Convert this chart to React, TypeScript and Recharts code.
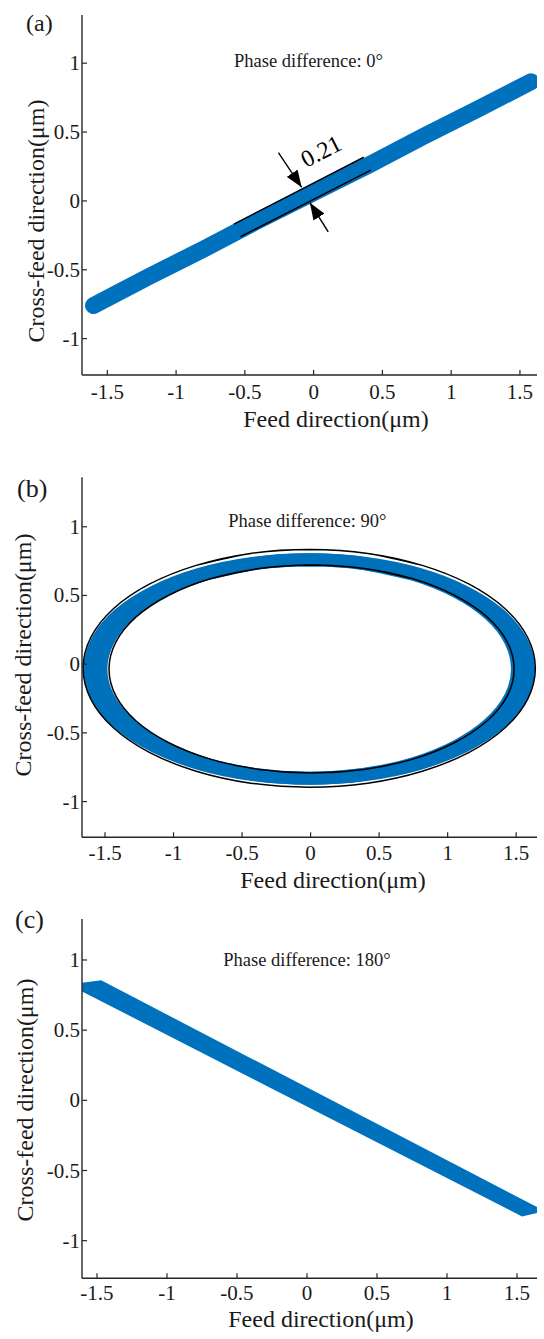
import React from 'react';
import { ComposedChart, Line, Area, XAxis, YAxis, ReferenceLine, ReferenceDot } from 'recharts';

const FONT = "'Liberation Serif', 'Times New Roman', Times, serif";
const BLUE = '#0072BD';
const AXIS = '#262626';
const TEXT = '#1a1a1a';

// ---------- shared axis data ----------
const X_TICKS = [-1.5, -1, -0.5, 0, 0.5, 1, 1.5];
const Y_TICKS = [-1, -0.5, 0, 0.5, 1];
const PANEL_TITLES = ['(a)', '(b)', '(c)'];
const PHASE_LABELS = ['Phase difference: 0°', 'Phase difference: 90°', 'Phase difference: 180°'];
const X_TITLE = 'Feed direction(μm)';
const Y_TITLE = 'Cross-feed direction(μm)';

// ---------- (a) phase 0° ----------
const aBandX = [-1.6, -1.2, -0.8, -0.4, 0, 0.4, 0.8, 1.2, 1.58];
const aBandY = [-0.76, -0.55, -0.35, -0.14, 0.06, 0.26, 0.47, 0.67, 0.865];
const aEdgeUpperX = [-0.579, 0.365];
const aEdgeUpperY = [-0.168, 0.317];
const aEdgeLowerX = [-0.532, 0.416];
const aEdgeLowerY = [-0.26, 0.224];
const aArrowTopX = [-0.256, -0.087];
const aArrowTopY = [0.35, 0.099];
const aArrowBottomX = [0.106, -0.027];
const aArrowBottomY = [-0.224, -0.013];
const aWidthLabel = '0.21';
const aWidthLabelXY = [0.055, 0.36];

// ---------- (b) phase 90° (points every 15°, starting at the right) ----------
const bBlueY = [-0.035, 0.171, 0.363, 0.527, 0.654, 0.733, 0.76, 0.733, 0.654, 0.527, 0.363, 0.171,
  -0.035, -0.241, -0.433, -0.597, -0.724, -0.803, -0.83, -0.803, -0.724, -0.597, -0.433, -0.241];
const bBlueOuterX = [1.59, 1.535, 1.376, 1.121, 0.79, 0.404, -0.01, -0.424, -0.81, -1.141, -1.396, -1.555,
  -1.61, -1.555, -1.396, -1.141, -0.81, -0.424, -0.01, 0.404, 0.79, 1.121, 1.376, 1.535];
const bBlueInnerX = [1.51, 1.458, 1.306, 1.065, 0.75, 0.383, -0.01, -0.403, -0.77, -1.085, -1.326, -1.478,
  -1.53, -1.478, -1.326, -1.085, -0.77, -0.403, -0.01, 0.383, 0.75, 1.065, 1.306, 1.458];
const bFitOuterX = [1.64, 1.584, 1.419, 1.157, 0.815, 0.417, -0.01, -0.437, -0.835, -1.177, -1.439, -1.604,
  -1.66, -1.604, -1.439, -1.177, -0.835, -0.437, -0.01, 0.417, 0.815, 1.157, 1.419, 1.584];
const bFitOuterY = [-0.03, 0.194, 0.403, 0.582, 0.719, 0.806, 0.835, 0.806, 0.719, 0.582, 0.403, 0.194,
  -0.03, -0.254, -0.463, -0.642, -0.779, -0.866, -0.895, -0.866, -0.779, -0.642, -0.463, -0.254];
const bFitInnerX = [1.485, 1.435, 1.287, 1.052, 0.746, 0.39, 0.007, -0.376, -0.732, -1.038, -1.273, -1.421,
  -1.471, -1.421, -1.273, -1.038, -0.732, -0.376, 0.007, 0.39, 0.746, 1.052, 1.287, 1.435];
const bFitInnerY = [-0.035, 0.161, 0.344, 0.5, 0.621, 0.696, 0.722, 0.696, 0.621, 0.5, 0.344, 0.161,
  -0.035, -0.231, -0.414, -0.57, -0.691, -0.766, -0.792, -0.766, -0.691, -0.57, -0.414, -0.231];

// ---------- (c) phase 180° ----------
const cBandX = [-1.703, -1.47, 1.536, 1.7];
const cBandLow = [0.825, 0.706, -0.827, -0.79];
const cBandHigh = [0.825, 0.855, -0.705, -0.79];

// ---------- helpers ----------
const pts = (xs: number[], ys: number[]) => xs.map((x, i) => ({ x, y: ys[i] }));
// walk the closed loop starting near the top and run a few points past the start,
// so the spline ends overlap instead of meeting in a kink
const loop = (xs: number[], ys: number[]) => {
  const n = xs.length;
  const out: { x: number; y: number }[] = [];
  for (let k = 4; k <= 4 + n + 4; k++) out.push({ x: xs[k % n], y: ys[k % n] });
  return out;
};
const seg = (xs: number[], ys: number[]) => [{ x: xs[0], y: ys[0] }, { x: xs[1], y: ys[1] }];

const aBand = pts(aBandX, aBandY);
const bBlueOuter = loop(bBlueOuterX, bBlueY);
const bBlueInner = loop(bBlueInnerX, bBlueY);
const bFitOuter = loop(bFitOuterX, bFitOuterY);
const bFitInner = loop(bFitInnerX, bFitInnerY);
const cBand = cBandX.map((x, i) => ({ x, r: [cBandLow[i], cBandHigh[i]] }));

const W = 544;
const TICK_FS = 21;

const XTick = (p: any) => (
  <text x={p.x} y={p.y} dy={14.5} textAnchor="middle" fontSize={TICK_FS} fontFamily={FONT} fill={TEXT}>
    {String(p.payload.value)}
  </text>
);
const YTick = (p: any) => (
  <text x={p.x} y={p.y} dy={7} textAnchor="end" fontSize={TICK_FS} fontFamily={FONT} fill={TEXT}>
    {String(p.payload.value)}
  </text>
);

type PanelProps = {
  top: number; height: number; plotTop: number; plotH: number;
  xDomain: number[]; yDomain: number[]; tickMargin: number;
  data?: any[]; children?: React.ReactNode;
};

function Panel({ top, height, plotTop, plotH, xDomain, yDomain, tickMargin, data, children }: PanelProps) {
  const axisLine = { stroke: AXIS, strokeWidth: 1.4 };
  const tickLine = { stroke: AXIS, strokeWidth: 1.2 };
  return (
    <div style={{ position: 'absolute', left: 0, top, width: W, height, fontFamily: FONT }}>
      <ComposedChart width={W} height={height} data={data}
        margin={{ top: plotTop, right: 7, left: 0, bottom: 0 }}>
        <XAxis xAxisId={0} dataKey="x" type="number" domain={xDomain} allowDataOverflow
          ticks={X_TICKS} interval={0} height={height - plotTop - plotH}
          tickSize={-5} tickMargin={tickMargin} axisLine={axisLine} tickLine={tickLine} tick={XTick} />
        <XAxis xAxisId="t" orientation="top" type="number" domain={xDomain} allowDataOverflow
          ticks={X_TICKS} interval={0} height={0} tickSize={-5} tick={false}
          axisLine={axisLine} tickLine={tickLine} />
        <YAxis yAxisId={0} type="number" domain={yDomain} allowDataOverflow
          ticks={Y_TICKS} interval={0} width={82} tickSize={-5} tickMargin={7}
          axisLine={axisLine} tickLine={tickLine} tick={YTick} />
        <YAxis yAxisId="r" orientation="right" type="number" domain={yDomain} allowDataOverflow
          ticks={Y_TICKS} interval={0} width={0} tickSize={-5} tick={false}
          axisLine={axisLine} tickLine={tickLine} />
        {children}
      </ComposedChart>
    </div>
  );
}

const phaseText = (label: string) => (p: any) => (
  <text x={p.cx} y={p.cy} textAnchor="middle" fontSize={18.5} fontFamily={FONT} fill={TEXT}>{label}</text>
);

const arrowShape = (p: any) => (
  <line x1={p.x1} y1={p.y1} x2={p.x2} y2={p.y2} stroke="#000" strokeWidth={1.4} markerEnd="url(#arrowHead)" />
);

export default function App() {
  return (
    <div style={{ position: 'absolute', left: 0, top: 0, width: W, height: 1339, background: '#fff', overflow: 'hidden', fontFamily: FONT }}>
      <svg width={0} height={0} style={{ position: 'absolute' }}>
        <defs>
          <marker id="arrowHead" markerUnits="userSpaceOnUse" markerWidth={17} markerHeight={13}
            refX={17} refY={6.5} orient="auto">
            <path d="M0,0 L17,6.5 L0,13 z" fill="#000" />
          </marker>
        </defs>
      </svg>

      {/* (a) */}
      <Panel top={0} height={440} plotTop={15} plotH={360} xDomain={[-1.684, 1.624]} yDomain={[-1.264, 1.35]} tickMargin={14}>
        <Line data={aBand} dataKey="y" type="linear" stroke={BLUE} strokeWidth={17} strokeLinecap="round"
          dot={false} activeDot={false} isAnimationActive={false} />
        <ReferenceLine segment={seg(aEdgeUpperX, aEdgeUpperY)} stroke="#000" strokeWidth={1.5} />
        <ReferenceLine segment={seg(aEdgeLowerX, aEdgeLowerY)} stroke="#000" strokeWidth={1.5} />
        <ReferenceLine segment={seg(aArrowTopX, aArrowTopY)} shape={arrowShape} />
        <ReferenceLine segment={seg(aArrowBottomX, aArrowBottomY)} shape={arrowShape} />
        <ReferenceDot x={aWidthLabelXY[0]} y={aWidthLabelXY[1]} r={0}
          shape={(p: any) => (
            <text x={p.cx} y={p.cy} transform={`rotate(-27 ${p.cx} ${p.cy})`} textAnchor="middle"
              dominantBaseline="central" fontSize={24} fontFamily={FONT} fill="#000">{aWidthLabel}</text>
          )} />
        <ReferenceDot x={-0.038} y={0.975} r={0} shape={phaseText(PHASE_LABELS[0])} />
      </Panel>

      {/* (b) */}
      <Panel top={440} height={450} plotTop={37.3} plotH={360} xDomain={[-1.668, 1.652]} yDomain={[-1.26, 1.36]} tickMargin={13}>
        <Line data={bBlueOuter} dataKey="y" type="natural" stroke={BLUE} strokeWidth={13}
          dot={false} activeDot={false} isAnimationActive={false} />
        <Line data={bBlueInner} dataKey="y" type="natural" stroke={BLUE} strokeWidth={13}
          dot={false} activeDot={false} isAnimationActive={false} />
        <Line data={bFitOuter} dataKey="y" type="natural" stroke="#000" strokeWidth={1.5}
          dot={false} activeDot={false} isAnimationActive={false} />
        <Line data={bFitInner} dataKey="y" type="natural" stroke="#000" strokeWidth={1.5}
          dot={false} activeDot={false} isAnimationActive={false} />
        <ReferenceDot x={-0.024} y={0.996} r={0} shape={phaseText(PHASE_LABELS[1])} />
      </Panel>

      {/* (c) */}
      <Panel top={890} height={449} plotTop={29} plotH={359.3} xDomain={[-1.607, 1.643]} yDomain={[-1.268, 1.292]} tickMargin={12.5} data={cBand}>
        <Area dataKey="r" type="linear" stroke="none" fill={BLUE} fillOpacity={1}
          dot={false} activeDot={false} isAnimationActive={false} />
        <ReferenceDot x={0} y={0.957} r={0} shape={phaseText(PHASE_LABELS[2])} />
      </Panel>

      {/* titles */}
      <svg width={W} height={1339} style={{ position: 'absolute', left: 0, top: 0, pointerEvents: 'none' }}
        fontFamily={FONT} fill={TEXT}>
        <text x={26} y={30.5} fontSize={24}>{PANEL_TITLES[0]}</text>
        <text x={17} y={497} fontSize={26}>{PANEL_TITLES[1]}</text>
        <text x={15} y={927.5} fontSize={26}>{PANEL_TITLES[2]}</text>

        <text x={336} y={427.3} fontSize={24} textAnchor="middle">{X_TITLE}</text>
        <text x={333} y={888} fontSize={24} textAnchor="middle">{X_TITLE}</text>
        <text x={321} y={1327} fontSize={24} textAnchor="middle">{X_TITLE}</text>

        <text x={44} y={221} fontSize={24} textAnchor="middle" transform="rotate(-90 44 221)">{Y_TITLE}</text>
        <text x={31} y={655} fontSize={24} textAnchor="middle" transform="rotate(-90 31 655)">{Y_TITLE}</text>
        <text x={33} y={1100} fontSize={24} textAnchor="middle" transform="rotate(-90 33 1100)">{Y_TITLE}</text>
      </svg>
    </div>
  );
}
